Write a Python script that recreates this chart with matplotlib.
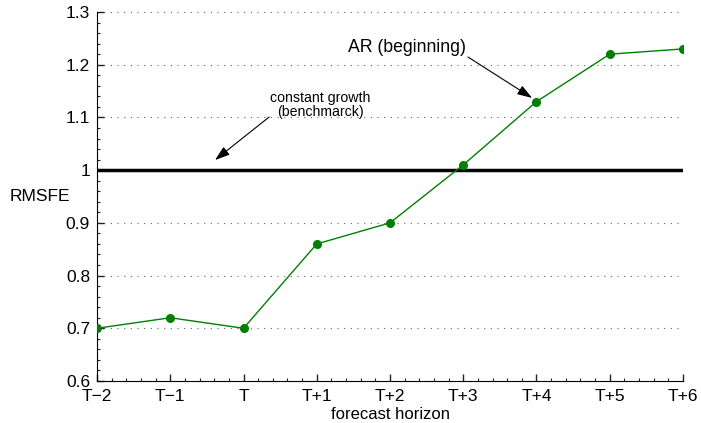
import matplotlib
matplotlib.use("Agg")
import matplotlib.pyplot as plt
from matplotlib.ticker import AutoMinorLocator

plt.rcParams['font.family'] = ['Liberation Sans', 'DejaVu Sans']

horizons = ['T\u22122', 'T\u22121', 'T', 'T+1', 'T+2', 'T+3', 'T+4', 'T+5', 'T+6']
rmsfe_ar = [0.70, 0.72, 0.70, 0.86, 0.90, 1.01, 1.13, 1.22, 1.23]
benchmark = 1.0
yticks = [0.6, 0.7, 0.8, 0.9, 1.0, 1.1, 1.2, 1.3]
ytick_labels = ['0.6', '0.7', '0.8', '0.9', '1', '1.1', '1.2', '1.3']

fig = plt.figure(figsize=(7.01, 4.23), dpi=100)
ax = fig.add_axes([0.1384, 0.0993, 0.8359, 0.8723])

x = list(range(len(horizons)))
ax.axhline(benchmark, color='black', lw=2.5, zorder=2)
ax.plot(x, rmsfe_ar, '-', color='green', lw=1, zorder=3)
ax.plot(x, rmsfe_ar, 'o', color='green', ms=5.5, zorder=4)

ax.set_xlim(0, len(horizons) - 1)
ax.set_ylim(0.6, 1.3)
ax.set_xticks(x)
ax.set_xticklabels(horizons)
ax.set_yticks(yticks)
ax.set_yticklabels(ytick_labels)
ax.xaxis.set_minor_locator(AutoMinorLocator(5))
ax.yaxis.set_minor_locator(AutoMinorLocator(5))
ax.tick_params(which='both', direction='in', labelsize=12.5, color='#222222')
ax.tick_params(axis='x', pad=6)
ax.tick_params(axis='y', pad=5)
ax.tick_params(which='major', length=5, width=1)
ax.tick_params(which='minor', length=2.5, width=0.8)
ax.grid(axis='y', which='major', linestyle=(0, (1, 5)), color='#666666', lw=0.8)
for s in ['top', 'right']:
    ax.spines[s].set_visible(False)

ax.set_xlabel('forecast horizon', fontsize=12, labelpad=2)
ax.set_ylabel('RMSFE', fontsize=12.5, rotation=0, va='center')
ax.yaxis.set_label_coords(-0.098, 0.5)

arrow = dict(arrowstyle='-|>,head_length=0.9,head_width=0.3', color='black',
             lw=0.8, shrinkA=0, shrinkB=0)

ax.text(4.23, 1.232, 'AR (beginning)', ha='center', va='center', fontsize=12.7)
ax.annotate('', xy=(5.94, 1.137), xytext=(5.065, 1.2146), arrowprops=arrow)

ax.text(3.044, 1.1236, 'constant growth\n(benchmarck)', ha='center', va='center',
        fontsize=10.2, linespacing=0.95)
ax.annotate('', xy=(1.611, 1.0192), xytext=(2.35, 1.1008), arrowprops=arrow)

fig.savefig('out.png', dpi=100)
